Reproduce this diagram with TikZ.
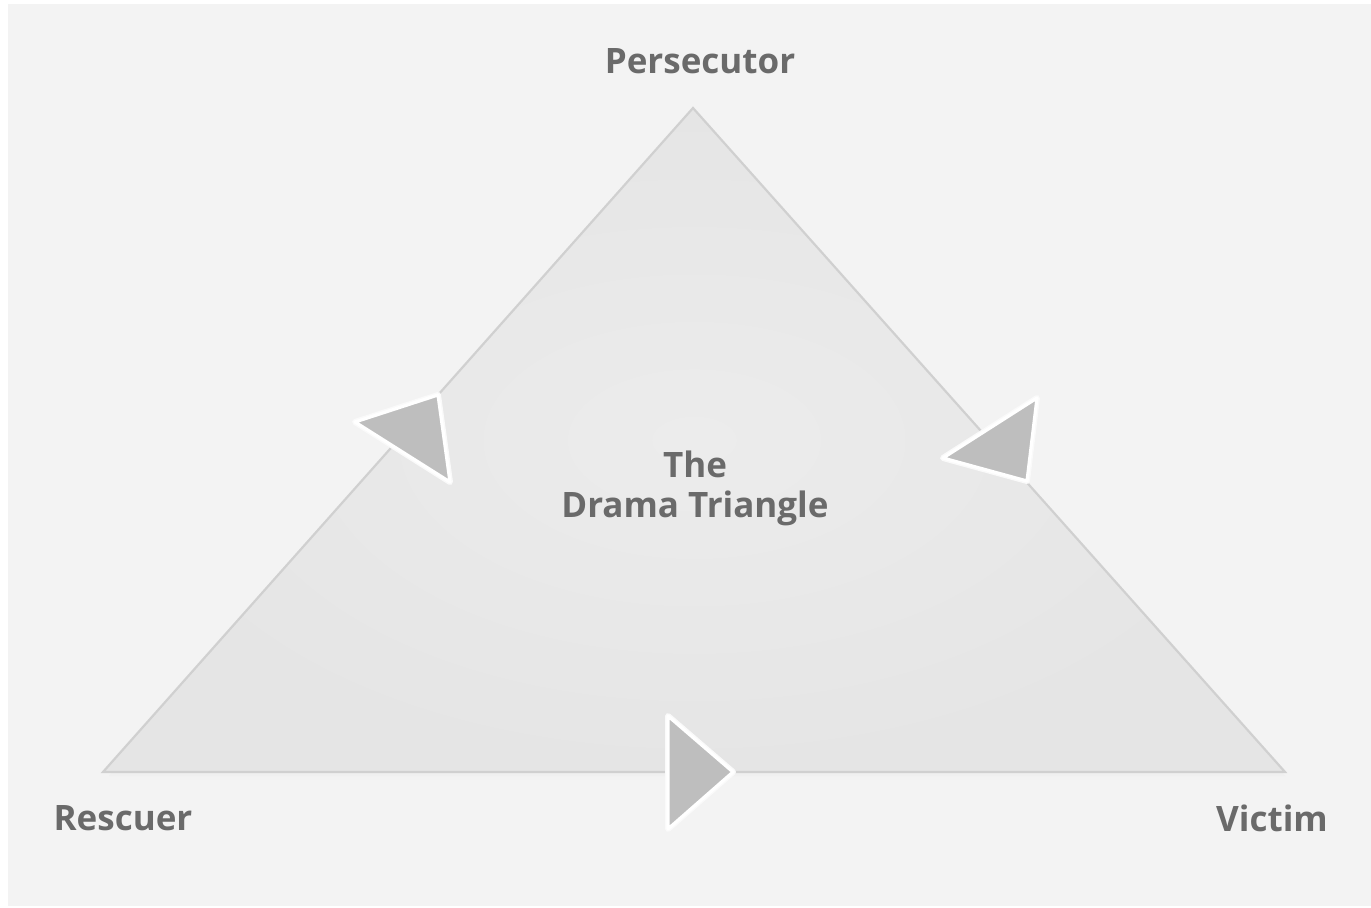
\documentclass[tikz,border=0pt]{standalone}
\usepackage{fontspec}
\setmainfont{Open Sans}
\usetikzlibrary{shadings,calc}
\definecolor{paper}{HTML}{F3F3F3}
\definecolor{trifill}{HTML}{E5E5E5}
\definecolor{tricenter}{HTML}{ECECEC}
\definecolor{triedge}{HTML}{D0D0D0}
\definecolor{arrowgray}{HTML}{BEBEBE}
\definecolor{labelgray}{HTML}{6A6A6A}
\tikzset{
  label text/.style={text=labelgray, font=\fontsize{17.5}{21}\selectfont\bfseries, inner sep=0pt},
  turn mark/.style={fill=arrowgray, draw=white, line width=1.6pt, line join=round},
  mark halo/.style={draw=white!60!paper, line width=3pt, line join=round},
}
\begin{document}
\begin{tikzpicture}[x=0.5pt,y=-0.5pt]
  % canvas
  \useasboundingbox (0,0) rectangle (1371,908);
  \fill[white] (0,0) rectangle (1371,908);
  \fill[paper] (8,4) rectangle (1371,906);

  % corners of the triangle
  \coordinate (top) at (693,108);
  \coordinate (left) at (103,772);
  \coordinate (right) at (1285,772);

  % soft shadow under the base
  \fill[black!6] ($(left)+(6,4)$) -- ($(right)+(0,4)$) -- (top) -- cycle;

  % triangle body, lighter toward the middle
  \shade[inner color=tricenter, outer color=trifill, draw=triedge, line width=1.1pt]
    (top) -- (right) -- (left) -- cycle;

  % arrowheads on the three sides, each with a pale halo
  \draw[mark halo] (355,422) -- (438,395) -- (450,482) -- cycle;
  \filldraw[turn mark] (355,422) -- (438,395) -- (450,482) -- cycle;
  \draw[mark halo] (943,458) -- (1037,398) -- (1027,481) -- cycle;
  \filldraw[turn mark] (943,458) -- (1037,398) -- (1027,481) -- cycle;
  \draw[mark halo] (668,716) -- (733,772) -- (668,829) -- cycle;
  \filldraw[turn mark] (668,716) -- (733,772) -- (668,829) -- cycle;

  % labels
  \node[label text] (persecutor) at (700,61) {Persecutor};
  \node[label text] (rescuer) at (123,818) {Rescuer};
  \node[label text] (victim) at (1272,818) {Victim};
  \node[label text, align=center] (title) at (695,488) {The\\[-1pt]Drama Triangle};
\end{tikzpicture}
\end{document}
